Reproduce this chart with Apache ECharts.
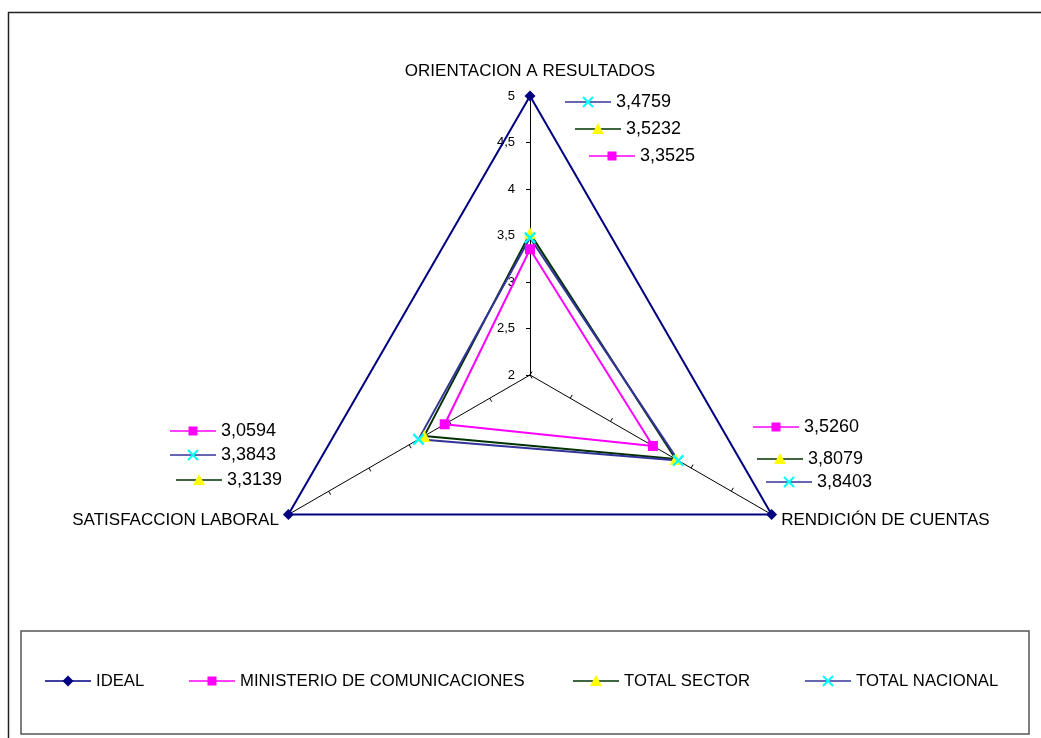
<!DOCTYPE html>
<html><head><meta charset="utf-8">
<script src="https://cdn.jsdelivr.net/npm/echarts/dist/echarts.min.js"></script>
<style>html,body{margin:0;padding:0;background:#fff}#c{width:1041px;height:738px}</style>
</head><body><div id="c"></div>
<script>
// ---- data ----
const indicatorNames = ['ORIENTACION A RESULTADOS', 'RENDICIÓN DE CUENTAS', 'SATISFACCION LABORAL'];
const seriesNames = ['IDEAL', 'MINISTERIO DE COMUNICACIONES', 'TOTAL SECTOR', 'TOTAL NACIONAL'];
const ideal = [5, 5, 5];
const ministerio = [3.3525, 3.5260, 3.0594];
const totalSector = [3.5232, 3.8079, 3.3139];
const totalNacional = [3.4759, 3.8403, 3.3843];
const axisMin = 2, axisMax = 5, axisStep = 0.5;

// ---- style / layout ----
const FONT = 'Liberation Sans, Arial, sans-serif';
const seriesData = [ideal, ministerio, totalSector, totalNacional];
const lineColors = ['#000080', '#FF00FF', '#003300', '#333399'];
const markColors = ['#000080', '#FF00FF', '#FFFF00', '#00FFFF'];
const xPath = 'path://M0,1.4L1.4,0L5,3.6L8.6,0L10,1.4L6.4,5L10,8.6L8.6,10L5,6.4L1.4,10L0,8.6L3.6,5Z';
const symbols = ['diamond', 'rect', 'triangle', xPath];
const symbolSizes = [11, 10, 12, 12];
// Excel draws clockwise, ECharts counter-clockwise: reorder indicators
const order = [0, 2, 1];
// per indicator (original order) -> per series index: [key start x, y]
const valueLabelPos = [
  {1: [589, 156], 2: [575, 129], 3: [565, 102]},
  {1: [753, 427], 2: [757, 459], 3: [766, 482]},
  {1: [170, 431], 2: [176, 480], 3: [170, 455]}
];
const legendKeyX = [45, 189, 573, 805];
const legendY = 681;
const KEYW = 46;

const fmt = v => v.toFixed(4).replace('.', ',');

function keyMarker(si, cx, cy) {
  const c = markColors[si];
  if (si === 0) return {type: 'polygon', shape: {points: [[cx, cy - 5.5], [cx + 5.5, cy], [cx, cy + 5.5], [cx - 5.5, cy]]}, style: {fill: c}};
  if (si === 1) return {type: 'rect', shape: {x: cx - 4.5, y: cy - 4.5, width: 9, height: 9}, style: {fill: c}};
  if (si === 2) return {type: 'polygon', shape: {points: [[cx, cy - 6], [cx + 6, cy + 5], [cx - 6, cy + 5]]}, style: {fill: c}};
  return {type: 'group', children: [
    {type: 'line', shape: {x1: cx - 5, y1: cy - 5, x2: cx + 5, y2: cy + 5}, style: {stroke: c, lineWidth: 2}},
    {type: 'line', shape: {x1: cx - 5, y1: cy + 5, x2: cx + 5, y2: cy - 5}, style: {stroke: c, lineWidth: 2}}
  ]};
}
function keyItems(si, x, y) {
  return [
    {type: 'line', shape: {x1: x, y1: y, x2: x + KEYW, y2: y}, style: {stroke: lineColors[si], lineWidth: 1.5}},
    keyMarker(si, x + KEYW / 2, y)
  ];
}

const graphics = [];
// outer chart border
graphics.push({type: 'rect', silent: true, shape: {x: 8.5, y: 12.5, width: 1100, height: 800}, style: {fill: 'none', stroke: '#222', lineWidth: 1.5}});
// legend box
graphics.push({type: 'rect', silent: true, shape: {x: 21, y: 631, width: 1008, height: 103}, style: {fill: '#fff', stroke: '#555', lineWidth: 1.5}});
seriesNames.forEach((nm, si) => {
  const x = legendKeyX[si];
  keyItems(si, x, legendY).forEach(g => graphics.push(g));
  graphics.push({type: 'text', x: x + KEYW + 5, y: legendY, style: {text: nm, fill: '#000', font: '16.7px ' + FONT, verticalAlign: 'middle', align: 'left'}});
});
// data labels with legend keys
valueLabelPos.forEach((grp, ii) => {
  Object.keys(grp).forEach(k => {
    const si = +k;
    const [x, y] = grp[k];
    keyItems(si, x, y).forEach(g => graphics.push(g));
    graphics.push({type: 'text', x: x + KEYW + 5, y: y, style: {text: fmt(seriesData[si][ii]), fill: '#000', font: '18px ' + FONT, verticalAlign: 'middle', align: 'left'}});
  });
});

const indicatorCfg = [
  {nameGap: 16},
  {nameGap: 11, nameTextStyle: {padding: [0, 0, 11, 0]}},
  {nameGap: 11, nameTextStyle: {padding: [0, 0, 11, 0]}}
];
const indicator = order.map((ii, pos) => Object.assign({
  name: indicatorNames[ii], min: axisMin, max: axisMax,
  axisLabel: pos === 0 ? {show: true, color: '#000', fontSize: 13, fontFamily: FONT, margin: 15,
    formatter: v => String(v).replace('.', ',')} : {show: false}
}, indicatorCfg[ii]));

const chart = echarts.init(document.getElementById('c'), null, {renderer: 'canvas'});
chart.setOption({
  animation: false,
  backgroundColor: '#fff',
  radar: {
    center: [530, 375],
    radius: 279,
    startAngle: 90,
    splitNumber: Math.round((axisMax - axisMin) / axisStep),
    shape: 'polygon',
    axisName: {color: '#000', fontSize: 17, fontFamily: FONT},
    axisLine: {lineStyle: {color: '#000', width: 1}},
    axisTick: {show: true, length: 4, lineStyle: {color: '#000'}},
    axisLabel: {show: false},
    splitLine: {show: false},
    splitArea: {show: false},
    indicator: indicator
  },
  series: seriesNames.map((nm, si) => ({
    type: 'radar',
    name: nm,
    symbol: symbols[si],
    symbolSize: symbolSizes[si],
    lineStyle: {color: lineColors[si], width: 2},
    itemStyle: {color: markColors[si]},
    data: [{name: nm, value: order.map(ii => seriesData[si][ii])}]
  })),
  graphic: graphics
});
</script></body></html>
